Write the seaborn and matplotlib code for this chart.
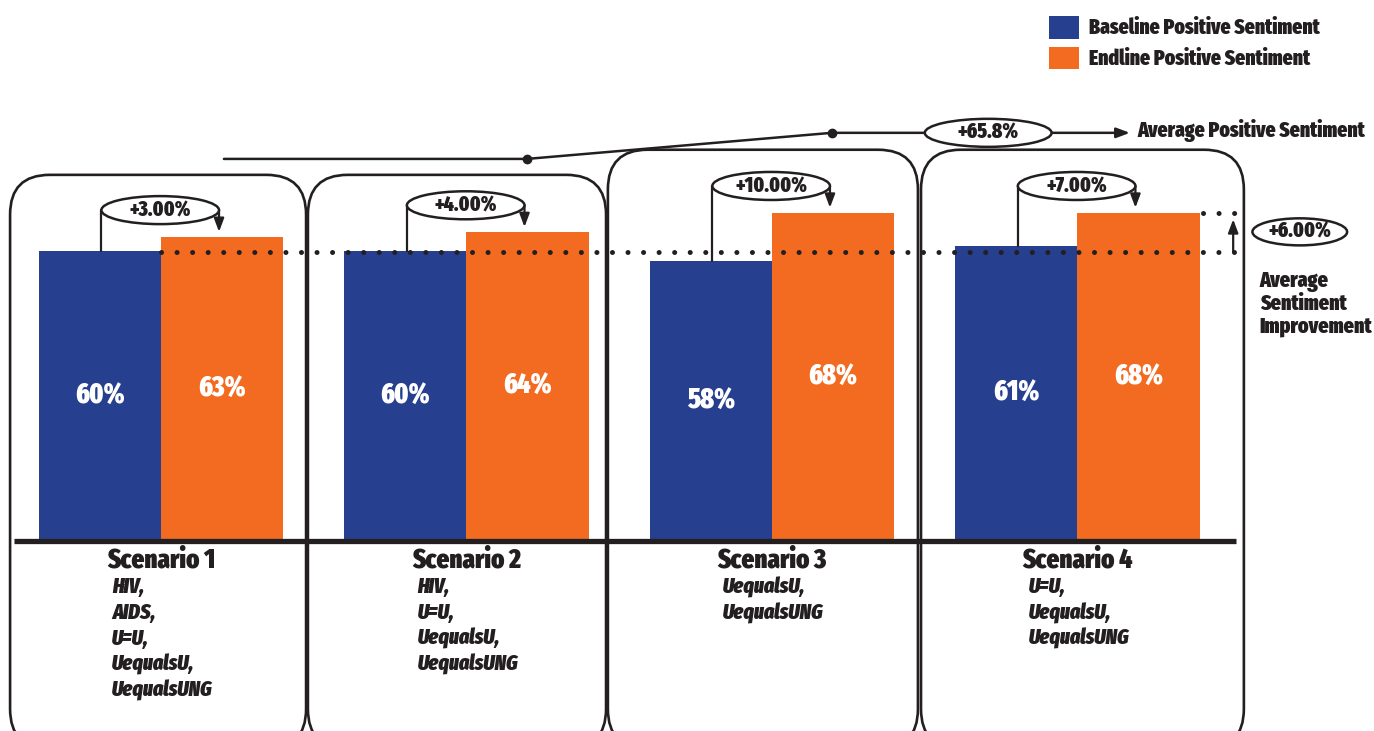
import numpy as np
import pandas as pd
import matplotlib.pyplot as plt
from matplotlib.patches import FancyBboxPatch, Ellipse
import seaborn as sns

# chart values
scenarios = ["Scenario 1", "Scenario 2", "Scenario 3", "Scenario 4"]
baseline = [60, 60, 58, 61]
endline = [63, 64, 68, 68]
series_names = ["Baseline Positive Sentiment", "Endline Positive Sentiment"]
keywords = [
    ["HIV,", "AIDS,", "U=U,", "UequalsU,", "UequalsUNG"],
    ["HIV,", "U=U,", "UequalsU,", "UequalsUNG"],
    ["UequalsU,", "UequalsUNG"],
    ["U=U,", "UequalsU,", "UequalsUNG"],
]

BLUE = "#263F8F"
ORANGE = "#F26B21"
INK = "#231F20"
W = 900  # heavy condensed look

df = pd.DataFrame({
    "scenario": scenarios * 2,
    "period": [series_names[0]] * 4 + [series_names[1]] * 4,
    "value": baseline + endline,
})
improvement = [e - b for b, e in zip(baseline, endline)]
avg_base = np.mean(baseline)
avg_end = np.mean(endline)
avg_impr = np.mean(improvement)

sns.set_style("white")
plt.rcParams["font.family"] = ["Fira Sans Extra Condensed", "DejaVu Sans"]
plt.rcParams["font.weight"] = W

fig = plt.figure(figsize=(13.74, 7.31), dpi=100)
ax = fig.add_axes([0, 0, 1, 1])
sns.barplot(data=df, x="scenario", y="value", hue="period",
            palette=[BLUE, ORANGE], saturation=1, width=0.8,
            errorbar=None, linewidth=0, ax=ax)
ax.set_xlim(-0.527, 3.971)
ax.set_ylim(-39.34, 112.0)
ax.axis("off")

# value labels inside bars
for cont in ax.containers:
    ax.bar_label(cont, labels=[f"{v:.0f}%" for v in cont.datavalues],
                 label_type="center", color="white", fontsize=20,
                 fontweight=W)

# rounded scenario boxes
box_edges = [(-0.494, 0.475), (0.481, 1.457), (1.463, 2.478), (2.488, 3.545)]
box_tops = [75.8, 75.8, 81.0, 81.0]
aspect = 305.5 / 4.83
for (x0, x1), top in zip(box_edges, box_tops):
    ax.add_patch(FancyBboxPatch((x0, -43), x1 - x0, top + 43,
                                boxstyle="round,pad=0,rounding_size=0.13",
                                mutation_aspect=aspect, fill=False,
                                ec=INK, lw=1.9, zorder=1))

# baseline axis
ax.plot([-0.48, 3.52], [0, 0], color=INK, lw=3.8, solid_capstyle="butt", zorder=3)

# scenario names and keywords
for i, (name, kws) in enumerate(zip(scenarios, keywords)):
    ax.text(i, -4.0, name, ha="center", va="center", fontsize=19.5,
            fontweight=W, color=INK)
    for j, kw in enumerate(kws):
        ax.text(i - 0.16, -9.6 - j * 5.32, kw, ha="left", va="center",
                fontsize=15.5, fontweight=W, style="italic", color=INK)

# improvement brackets per scenario
arrow_style = "-|>,head_length=0.8,head_width=0.3"
blue_bars = ax.containers[0]
orange_bars = ax.containers[1]
for i, (b, o, d) in enumerate(zip(blue_bars, orange_bars, improvement)):
    xl = b.get_x() + b.get_width() / 2 + 0.005
    xr = o.get_x() + o.get_width() / 2 - 0.01
    ey = o.get_height() + 5.5
    ax.plot([xl, xl], [b.get_height(), ey], color=INK, lw=1.6, zorder=4)
    ax.annotate("", xy=(xr, o.get_height() + 1.0), xytext=(xr, ey),
                arrowprops=dict(arrowstyle=arrow_style, color=INK, lw=1.6,
                                shrinkA=0, shrinkB=0), zorder=4)
    ax.add_patch(Ellipse(((xl + xr) / 2, ey), xr - xl, 5.8, fc="white",
                         ec=INK, lw=1.8, zorder=5))
    ax.text((xl + xr) / 2, ey, f"+{d:.2f}%", ha="center", va="center",
            fontsize=15, fontweight=W, color=INK, zorder=6)

# average baseline dotted line and average improvement
dots = dict(color=INK, lw=3.6, linestyle=(0, (0.01, 3.1)),
            dash_capstyle="round", zorder=4)
ax.plot([0.0, 3.52], [avg_base, avg_base], **dots)
ax.plot([3.41, 3.52], [endline[3], endline[3]], **dots)
ax.annotate("", xy=(3.51, endline[3] - 1.4), xytext=(3.51, avg_base),
            arrowprops=dict(arrowstyle=arrow_style, color=INK, lw=1.6,
                            shrinkA=0, shrinkB=0))
ax.add_patch(Ellipse((3.728, 64.0), 0.31, 5.6, fc="white", ec=INK, lw=1.8, zorder=5))
ax.text(3.728, 64.0, f"+{avg_impr:.2f}%", ha="center", va="center",
        fontsize=15, fontweight=W, color=INK, zorder=6)
ax.text(3.597, 56.0, "Average\nSentiment\nImprovement", ha="left", va="top",
        fontsize=15.5, fontweight=W, color=INK, linespacing=1.1)

# average positive sentiment connector
ax.plot([0.206, 1.198, 2.196, 2.50], [79.1, 79.1, 84.5, 84.5], color=INK, lw=1.8, zorder=4)
ax.plot([1.198, 2.196], [79.1, 84.5], "o", color=INK, ms=6, zorder=5)
ax.add_patch(Ellipse((2.708, 84.5), 0.415, 5.8, fc="white", ec=INK, lw=1.8, zorder=5))
ax.text(2.708, 84.5, f"+{avg_end:.1f}%", ha="center", va="center",
        fontsize=15, fontweight=W, color=INK, zorder=6)
ax.annotate("", xy=(3.172, 84.5), xytext=(2.917, 84.5),
            arrowprops=dict(arrowstyle=arrow_style, color=INK, lw=1.8,
                            shrinkA=0, shrinkB=0))
ax.text(3.195, 84.9, "Average Positive Sentiment", ha="left", va="center",
        fontsize=15.3, fontweight=W, color=INK)

# legend
sns.move_legend(ax, loc="upper left", bbox_to_anchor=(0.7635, 0.978),
                bbox_transform=fig.transFigure, title=None, frameon=False,
                fontsize=15.3, handlelength=1.42, handleheight=1.25,
                labelspacing=0.38, handletextpad=0.48, borderpad=0,
                borderaxespad=0)
for t in ax.get_legend().get_texts():
    t.set_color(INK)
    t.set_fontweight(W)

fig.savefig("out.png", dpi=100)
